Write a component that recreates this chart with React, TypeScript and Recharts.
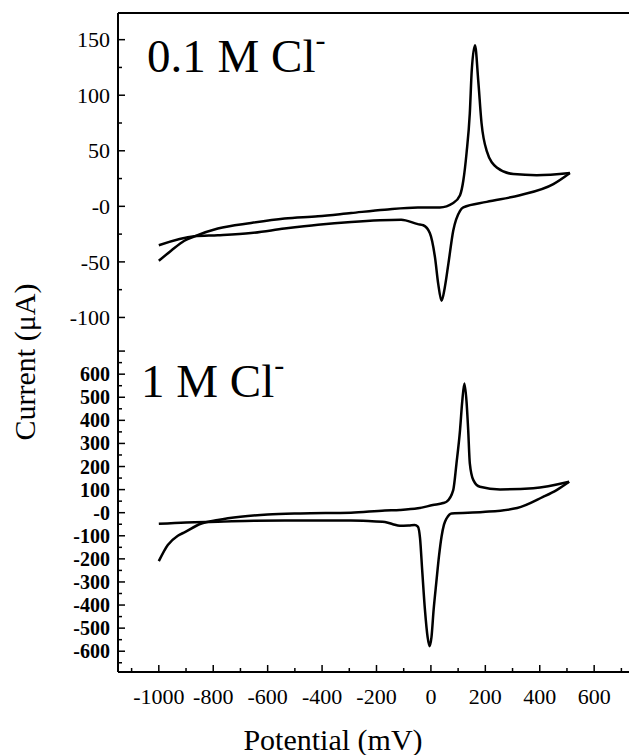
import React from 'react';
import { LineChart, Line, XAxis, YAxis, ReferenceLine } from 'recharts';

// 0.1 M Cl- : forward (positive-going) scan, potential in mV / current in uA
const TOP_FWD_MV = [-1000, -955, -906, -869, -783, -661, -538, -415, -293, -170, -48, 33, 82, 107, 119, 131, 143, 150, 162, 174, 186, 205, 242, 303, 389, 511];
const TOP_FWD_UA = [-49, -40, -31, -27, -20, -15, -11, -9, -6, -3, -1, -1, 3, 10, 23, 48, 84, 122, 145, 113, 75, 50, 35, 29, 28, 30];
// 0.1 M Cl- : reverse scan
const TOP_REV_MV = [-1000, -869, -783, -661, -538, -415, -293, -109, -48, -28, -4, 15, 27, 39, 51, 64, 82, 107, 119, 205, 327, 450, 511];
const TOP_REV_UA = [-35, -27, -26, -24, -20, -16.5, -14, -12, -16, -17, -24, -46, -70, -85, -73, -52, -22, -4, -1, 4, 10, 20, 30];

// 1 M Cl- : forward scan
const BOT_FWD_MV = [-1000, -967, -930, -904, -846, -783, -700, -600, -480, -294, -169, -114, -48, 7, 45, 58, 82, 94, 107, 115, 123, 131, 137, 143, 156, 180, 254, 376, 508];
const BOT_FWD_UA = [-210, -140, -100, -84, -48, -32, -18, -8, -3, 0, 10, 12, 19, 33, 42, 48, 98, 214, 358, 480, 560, 480, 358, 214, 141, 112, 101, 106, 134];
// 1 M Cl- : reverse scan
const BOT_REV_MV = [-1000, -900, -783, -650, -537, -400, -294, -230, -169, -140, -114, -80, -60, -48, -40, -32, -22, -12, -5, 2, 10, 20, 30, 39, 48, 58, 76, 191, 317, 412, 462, 508];
const BOT_REV_UA = [-48, -42, -39, -35, -34, -34, -34, -36, -40, -50, -57, -55, -53, -60, -110, -250, -420, -540, -578, -540, -420, -300, -185, -104, -52, -24, -3, 3, 20, 68, 98, 134];

const X_TICKS = [-1100, -1000, -900, -800, -700, -600, -500, -400, -300, -200, -100, 0, 100, 200, 300, 400, 500, 600, 700];
const TOP_Y_TICKS = [-100, -75, -50, -25, 0, 25, 50, 75, 100, 125, 150];
const BOT_Y_TICKS = [-650, -600, -550, -500, -450, -400, -350, -300, -250, -200, -150, -100, -50, 0, 50, 100, 150, 200, 250, 300, 350, 400, 450, 500, 550, 600, 650, 700];

const X_DOMAIN: [number, number] = [-1150, 728];
const TOP_DOMAIN: [number, number] = [-123, 174];
const BOT_DOMAIN: [number, number] = [-690, 735];

const FONT = '"Liberation Serif", "DejaVu Serif", "Times New Roman", serif';

const zip = (xs: number[], ys: number[]) => xs.map((mV, i) => ({ mV, uA: ys[i] }));

const topFwd = zip(TOP_FWD_MV, TOP_FWD_UA);
const topRev = zip(TOP_REV_MV, TOP_REV_UA);
const botFwd = zip(BOT_FWD_MV, BOT_FWD_UA);
const botRev = zip(BOT_REV_MV, BOT_REV_UA);

const yLabel = (v: number) => (v === 0 ? '-0' : String(v));

const xTick = (showLabel: boolean) => (props: any) => {
  const { x, y, payload } = props;
  const major = payload.value % 200 === 0;
  return (
    <g>
      <line x1={x} y1={y} x2={x} y2={y - (major ? 7 : 4)} stroke="#000" strokeWidth={1.5} />
      {showLabel && major && (
        <text x={x} y={y + 32} textAnchor="middle" style={{ fontFamily: FONT }} fontSize={22} fill="#000">
          {payload.value}
        </text>
      )}
    </g>
  );
};

const yTick = (step: number, limit: number, size: number, bold: boolean) => (props: any) => {
  const { x, y, payload } = props;
  const major = payload.value % step === 0;
  const labelled = major && Math.abs(payload.value) <= limit;
  return (
    <g>
      <line x1={x} y1={y} x2={x + (major ? 7 : 4)} y2={y} stroke="#000" strokeWidth={1.5} />
      {labelled && (
        <text x={x - 8} y={y} dy="0.35em" textAnchor="end" style={{ fontFamily: FONT }} fontSize={size}
          fontWeight={bold ? 'bold' : 'normal'} fill="#000">
          {yLabel(payload.value)}
        </text>
      )}
    </g>
  );
};

const axisLine = { stroke: '#000', strokeWidth: 2 };

export default function App() {
  return (
    <div style={{ position: 'absolute', left: 0, top: 0, width: 629, height: 755, background: '#fff', fontFamily: FONT }}>
      <div style={{ position: 'absolute', left: 0, top: 0 }}>
        <LineChart width={629} height={343} margin={{ top: 13, right: 0, bottom: 0, left: 0 }}>
          <XAxis type="number" dataKey="mV" domain={X_DOMAIN} allowDataOverflow ticks={X_TICKS} interval={0}
            height={0} tickSize={0} tickMargin={0} axisLine={axisLine} tickLine={false} tick={xTick(false)} />
          <YAxis type="number" domain={TOP_DOMAIN} allowDataOverflow ticks={TOP_Y_TICKS} interval={0}
            width={118} tickSize={0} tickMargin={0} axisLine={axisLine} tickLine={false} tick={yTick(50, 150, 22, false)} />
          <ReferenceLine y={TOP_DOMAIN[1]} stroke="#000" strokeWidth={2} />
          <Line data={topFwd} dataKey="uA" type="monotone" stroke="#000" strokeWidth={2.5} dot={false} isAnimationActive={false} />
          <Line data={topRev} dataKey="uA" type="monotone" stroke="#000" strokeWidth={2.5} dot={false} isAnimationActive={false} />
        </LineChart>
      </div>
      <div style={{ position: 'absolute', left: 0, top: 343 }}>
        <LineChart width={629} height={412} margin={{ top: 0, right: 0, bottom: 0, left: 0 }}>
          <XAxis type="number" dataKey="mV" domain={X_DOMAIN} allowDataOverflow ticks={X_TICKS} interval={0}
            height={83} tickSize={0} tickMargin={0} axisLine={axisLine} tickLine={false} tick={xTick(true)} />
          <YAxis type="number" domain={BOT_DOMAIN} allowDataOverflow ticks={BOT_Y_TICKS} interval={0}
            width={118} tickSize={0} tickMargin={0} axisLine={axisLine} tickLine={false} tick={yTick(100, 600, 20, true)} />
          <Line data={botFwd} dataKey="uA" type="monotone" stroke="#000" strokeWidth={2.5} dot={false} isAnimationActive={false} />
          <Line data={botRev} dataKey="uA" type="monotone" stroke="#000" strokeWidth={2.5} dot={false} isAnimationActive={false} />
        </LineChart>
      </div>
      <svg width={629} height={755} style={{ position: 'absolute', left: 0, top: 0, pointerEvents: 'none', fontFamily: FONT }}>
        <text x={147} y={72} fontSize={47} fill="#000">
          0.1 M Cl<tspan dy={-22} fontSize={30}>-</tspan>
        </text>
        <text x={141} y={397} fontSize={47} fill="#000">
          1 M Cl<tspan dy={-22} fontSize={30}>-</tspan>
        </text>
        <text transform="translate(35,362) rotate(-90)" textAnchor="middle" fontSize={30} fill="#000">
          Current (μA)
        </text>
        <text x={333} y={750} textAnchor="middle" fontSize={30} fill="#000">
          Potential (mV)
        </text>
      </svg>
    </div>
  );
}
